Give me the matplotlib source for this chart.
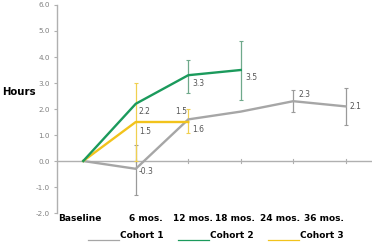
import matplotlib
matplotlib.use("Agg")
import matplotlib.pyplot as plt
import numpy as np
from matplotlib.lines import Line2D

categories = ["Baseline", "6 mos.", "12 mos.", "18 mos.", "24 mos.", "36 mos."]
yticks = [-2.0, -1.0, 0.0, 1.0, 2.0, 3.0, 4.0, 5.0, 6.0]

cohort1 = [0.0, -0.3, 1.6, 1.9, 2.3, 2.1]
cohort2 = [0.0, 2.2, 3.3, 3.5]
cohort3 = [0.0, 1.5, 1.5]

# error bar ranges (low, high) per point, None for no bar
cohort1_err = [None, (-1.3, 0.6), None, None, (1.88, 2.73), (1.38, 2.8)]
cohort2_err = [None, None, (2.6, 3.9), (2.35, 4.6)]
cohort3_err = [None, (0.0, 3.0), (1.07, 2.0)]

# value labels
labels1 = ["-0.3", "1.6", "2.3", "2.1"]
labels1_idx = [1, 2, 4, 5]
labels2 = ["2.2", "3.3", "3.5"]
labels2_idx = [1, 2, 3]
labels3 = ["1.5", "1.5"]
labels3_idx = [1, 2]

legend_names = ["Cohort 1", "Cohort 2", "Cohort 3"]

c_gray = "#a6a6a6"
c_green = "#1b9a5c"
c_yellow = "#f2c31c"
c_gray_err = "#9a9a9a"
c_green_err = "#6fa98b"
c_yellow_err = "#f0d050"

fig = plt.figure(figsize=(3.8, 2.45), dpi=100)
ax = fig.add_axes([57/380, 1-213/245, (372-57)/380, (213-5)/245])
ax.set_xlim(-0.5, 5.5)
ax.set_ylim(-2.0, 6.0)

def draw_err(vals, errs, color):
    for i, (v, e) in enumerate(zip(vals, errs)):
        if e is None:
            continue
        lo, hi = e
        ax.errorbar([i], [v], yerr=[[v - lo], [hi - v]], fmt="none",
                    ecolor=color, elinewidth=0.9, capsize=1.5, capthick=0.8, zorder=2)

draw_err(cohort1, cohort1_err, c_gray_err)
draw_err(cohort2, cohort2_err, c_green_err)
draw_err(cohort3, cohort3_err, c_yellow_err)

ax.plot(range(len(cohort1)), cohort1, color=c_gray, lw=1.7, zorder=3)
ax.plot(range(len(cohort3)), cohort3, color=c_yellow, lw=1.7, zorder=4)
ax.plot(range(len(cohort2)), cohort2, color=c_green, lw=1.7, zorder=5)

# label offsets (dx, y position, alignment) in data units
off1 = [(0.05, -0.42, "left"), (0.08, 1.23, "left"), (0.1, 2.54, "left"), (0.08, 2.08, "left")]
off2 = [(0.06, 1.9, "left"), (0.08, 3.0, "left"), (0.09, 3.23, "left")]
off3 = [(0.06, 1.15, "left"), (-0.02, 1.92, "right")]
tc = "#555555"
for lab, i, (dx, y, ha) in zip(labels1, labels1_idx, off1):
    ax.text(i + dx, y, lab, fontsize=5.5, color=tc, ha=ha, va="center")
for lab, i, (dx, y, ha) in zip(labels2, labels2_idx, off2):
    ax.text(i + dx, y, lab, fontsize=5.5, color=tc, ha=ha, va="center")
for lab, i, (dx, y, ha) in zip(labels3, labels3_idx, off3):
    ax.text(i + dx, y, lab, fontsize=5.5, color=tc, ha=ha, va="center")

# axes styling
for s in ["top", "right", "bottom"]:
    ax.spines[s].set_visible(False)
ax.spines["left"].set_color("#b0b0b0")
ax.spines["left"].set_linewidth(1.0)
ax.axhline(0, color="#b0b0b0", lw=1.0, zorder=1)
ax.set_yticks(yticks)
ax.set_yticklabels([f"{t:.1f}" for t in yticks])
ax.tick_params(axis="y", labelsize=5.2, labelcolor="#808080", color="#b0b0b0",
               length=2, width=0.8, pad=3)
ax.set_xticks([])
for i in range(1, len(categories)):
    ax.plot([i, i], [-0.06, 0.06], color="#b0b0b0", lw=0.8, zorder=1)

# category labels
cat_px = [80, 146, 193, 235, 280, 324]
for lab, px in zip(categories, cat_px):
    fig.text(px/380, 1-218/245, lab, fontsize=6.5, fontweight="bold", ha="center", va="center")

fig.text(2/380, 1-92/245, "Hours", fontsize=7.3, fontweight="bold", ha="left", va="center")

# legend row
leg_px = [(88, 119), (178, 209), (268, 299)]
for (x0, x1), name, col in zip(leg_px, legend_names, [c_gray, c_green, c_yellow]):
    fig.add_artist(Line2D([x0/380, x1/380], [1-240/245, 1-240/245], color=col, lw=0.9))
    fig.text((x1+1)/380, 1-235/245, name, fontsize=6.5, fontweight="bold", ha="left", va="center")

fig.savefig("out.png", dpi=100)
